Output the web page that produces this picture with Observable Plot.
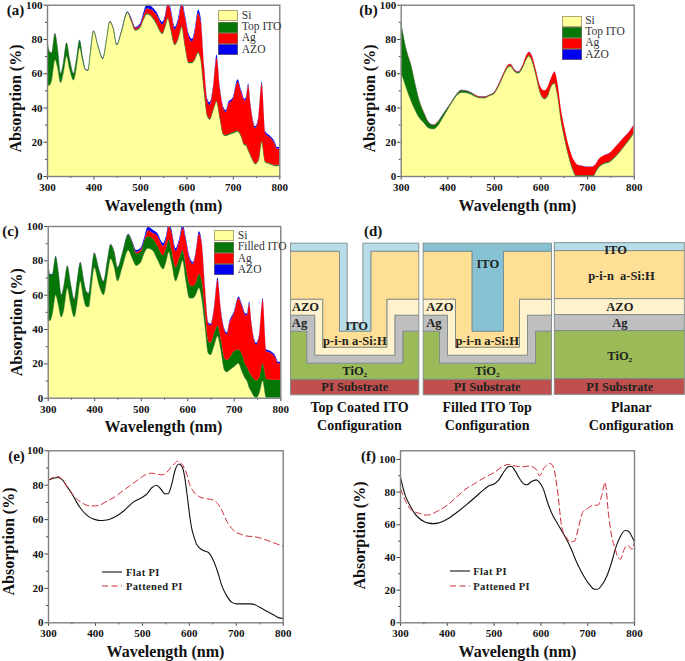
<!DOCTYPE html>
<html>
<head>
<meta charset="utf-8">
<script src="https://cdn.jsdelivr.net/npm/d3@7"></script>
<script src="https://cdn.jsdelivr.net/npm/@observablehq/plot@0.6"></script>
<style>
html,body{margin:0;padding:0;background:#fff}
#page{position:relative;width:685px;height:661px;overflow:hidden;font-family:"Liberation Serif",serif}
#page svg{position:absolute;overflow:visible}
.lg{position:absolute;font-size:11.5px;color:#333;line-height:1}
.sw{position:absolute;width:20px;box-sizing:border-box;border:1px solid rgba(130,120,90,.65)}
.lt{position:absolute;white-space:nowrap;transform:translateY(-50%)}
.ll{position:absolute;white-space:nowrap;font-weight:bold;font-size:10.5px;letter-spacing:.35px;color:#222;transform:translateY(-50%)}
</style>
</head>
<body>
<div id="page"></div>
<script>
// ---------- shared axis values
const majorX=[300,400,500,600,700,800];
const minorX=[350,450,550,650,750];
const majorY=[0,20,40,60,80,100];
const minorY=[10,30,50,70,90];

// ---------- panel (a)
const wlA=[300,305,310,317,323,329,335,342,349,357,363,370,377,383,388,393,400,410,420,428,435,443,450,460,473,482,490,500,507,515,525,535,548,554,560,566,575,582,590,597,605,612,618,625,631,638,645,650,657,665,672,680,685,690,700,710,718,725,728,733,738,743,748,755,762,770,780,790,795,800];
const siA=[53,53,56,68,63,54.5,60,70,62,56,63,75,67,62,61.5,71,84.5,75.5,68.5,79.5,90,85.5,76.5,84,95.5,90,85,86.5,91,94.5,93,89,83,87,92,86,76.5,80,87,76,66,66,68,72,68,50,35,33,38,43.5,34,24,23.5,24,25,26,23,18,18,15,12,9,7,9,20,8,7,6,6,6];
const itoA=[79.7,72.7,71.7,83.2,73.7,59.7,65.7,77.7,67.7,59.7,67.7,79.2,68.7,62.2,61.7,71.7,84.7,75.7,68.7,79.7,90.2,85.7,76.7,84.4,95.7,90.5,85.5,87,91.5,95,93.5,89.5,83.5,87.5,92.5,86.5,77,80.5,87.5,76.5,66.5,66.5,68.5,72.5,68.5,50.5,35.5,33.5,38.5,44,34.5,24.5,24,24.5,25.5,26.5,23.5,18.5,18.5,15.5,12.5,9.5,7.5,9.5,20.5,8.5,7.5,6.5,6.5,6.5];
const agA=[79.8,72.8,71.8,83.3,73.8,59.8,65.8,77.8,67.8,59.8,67.8,79.3,68.8,62.3,61.8,71.8,84.8,75.8,68.8,79.8,90.3,85.8,76.8,84.7,95.8,91.5,86.5,88,93.5,98,97,94.5,88.5,92.5,101,96.5,85.5,90.5,100,92.5,81.5,78.5,84.5,95,90,64,43.5,41.5,51,69,51,39,37.5,42,45,55,49,44,45,53,41,32,28,34,54,25,22.5,19,16,16];
const azoA=[80,73,72,83.5,74,60,66,78,68,60,68,79.5,69,62.5,62,72,85,76,69,80,90.5,86,77,85,96,92,87,89,95,100.5,99,96,90,94,103,98,87,92,102,94,83,80,86,97,92,65,45,43,52,71,52,40,38.5,43,46,56.5,50,45,46,54,42,33,29,35,55,26,23.5,20,17,17];

// ---------- panel (b)
const wlB=[300,305,310,315,322,330,340,350,360,370,380,390,400,410,420,430,440,450,460,470,480,490,500,510,520,530,535,545,552,560,570,575,582,590,600,608,615,622,630,636,645,650,660,670,676,680,690,700,710,714,718,725,735,750,760,770,780,790,800];
const siB=[61,57,53,49,44,39,34,31,28,27.5,29.5,34,38.5,43,47,48.8,48.6,47.8,46.4,45.6,45.5,46.8,48,52.5,58.5,63.5,64,60.8,60,62.5,68.5,70,67,59,48,45,46.5,52,54,48,31,24,12,3,0,0,0,0,0,0,2,5,7,8.5,11,14,17.5,21,25];
const itoB=[89.7,82.7,75.7,70.7,64.7,54.7,43.7,36.7,31.2,29.7,31.7,35.7,39.7,43.7,47.7,50,49.7,48.7,47,46,46,47.2,48.5,53,59,64,64.5,61.3,60.5,63,69,70.5,67.5,59.5,48.5,45.5,47,52.5,54.5,48.5,31.5,24.5,12.5,3.5,0.5,0.5,0.5,0.5,0.5,0.5,2.5,5.5,7.5,9,11.5,14.5,18,21.5,25.5];
const agB=[89.9,82.9,75.9,70.9,64.9,54.9,43.9,36.9,31.4,29.9,31.9,35.9,39.9,43.9,47.9,50.2,49.9,48.9,47.4,46.4,46.4,47.4,48.9,53.9,59.9,64.9,65.4,61.9,60.9,63.9,70.9,72.4,69.9,61.9,51.9,49.9,51.9,56.9,60.9,54.9,36.9,29.9,17.9,9.9,7.4,6.4,5.9,5.4,5.4,5.9,6.9,9.9,11.9,13.9,16.9,19.9,22.9,25.9,29.9];
const azoB=[90,83,76,71,65,55,44,37,31.5,30,32,36,40,44,48,50.3,50,49,47.5,46.5,46.5,47.5,49,54,60,65,65.5,62,61,64,71,72.5,70,62,52,50,52,57,61,55,37,30,18,10,7.5,6.5,6,5.5,5.5,6,7,10,12,14,17,20,23,26,30];

// ---------- panel (c)
const wlC=wlA;
const siC=[45,45,49,60,54,47,52,64,55,47,55,68,58,53,53,62,76,66,60,71,81,76,68,76,86,81,77,79,84,87,86,81,75,79,85,79,68,73,80,68,58,58,60,64,58,42,26,25,30,36,28,16,15,16,18,20,15,11,10,6,3.5,1,0,3,10,0,0,0,0,0];
const itoC=[79.2,71.7,71.7,82.2,72.7,59.7,65.7,76.7,66.7,57.2,67.7,78.7,68.7,61.7,60.7,70.7,84.2,74.7,67.7,79.7,89.2,84.7,75.7,83.7,95,90,84,85,91,94,93,89,83,87,92,86,76,81,86,76,66,65,67,72,68,50,33,32,37,42,34,23,22,23,27,28,25,19,18,15,13,11,10,12,20,11,10.5,10.5,10.5,10.5];
const agC=[79.3,71.8,71.8,82.3,72.8,59.8,65.8,76.8,66.8,57.3,67.8,78.8,68.8,61.8,60.8,70.8,84.3,74.8,67.8,79.8,89.3,84.8,75.8,83.8,95.2,90.5,85,86.5,91.5,97.5,96,94.5,88.5,92.5,100,96.5,85.5,90.5,99,91.5,80.5,78,84,95.5,90,64,43,42,51,68.5,51,39,37,43,49,58,53,48,48,55,43,34,31,37,57,27,26,23,20,20];
const azoC=[79.5,72,72,82.5,73,60,66,77,67,57.5,68,79,69,62,61,71,84.5,75,68,80,89.5,85,76,84,95.5,91,86,87.5,93,99.5,98,96,90,94,102,98,87,92,101,93,82,79,85,97,91,65,44,43,52,70,52,40,38,44,50,59,54,49,49,56,44,35,32,38,58,28,27,24,21,21];

// ---------- panel (e)
const wlEflat=[300,310,320,330,340,350,360,370,380,390,400,410,420,430,440,450,460,470,480,490,500,510,520,530,540,548,555,562,570,578,585,590,595,600,605,610,615,620,630,640,650,660,670,680,690,700,710,720,730,740,750,760,770,780,790,800];
const absEflat=[83,84,84.5,83,79,75,70,66,63,61,60,59.5,59.6,60.2,61.4,63,65,67.5,70,71.5,73,75,78.5,80,77.5,75,75,80,89,92.3,90.5,85,75,64,55,50,46,44,42,41,37,30,21,15.5,12,11,11,11,11,10.5,9,7.5,6,4.5,3,2.5];
const wlEpat=[300,310,320,330,340,350,360,370,380,390,400,410,420,430,440,450,460,470,480,490,500,510,520,530,540,550,560,570,575,585,595,600,610,620,630,640,650,660,670,680,690,700,710,720,740,760,780,800];
const absEpat=[83,84.5,85,83,79,75,72,70,68.5,68,68,68.5,70,71.5,73,75,77,79,81,83,85,86.5,87,86.5,86,87,90,93,94,92,86,81,76,73.5,72.5,72,71.5,69.5,65,59,55,52.5,51.5,50.5,50,48.5,46.5,44.5];

// ---------- panel (f)
const wlFflat=[300,310,320,330,340,350,360,370,380,390,400,420,440,460,480,490,500,510,520,530,537,545,555,565,570,580,590,597,605,615,625,635,645,655,665,675,685,695,705,715,720,730,740,750,760,770,780,787,795,800];
const absFflat=[89,78,72,67,64,62,61,60.7,61,62,63.5,67.5,72,77,82,84,85,87.5,92,95.5,95.8,93,88,84.8,84.5,86.5,87.5,86,82,73,66,61,56,51,45,38,32,27,23,20.5,20.5,23,28,36,46,53,56.5,56,52.5,49.5];
const wlFpat=[300,310,320,330,340,350,360,370,380,400,420,440,460,480,500,520,530,545,560,575,590,597,607,620,627,635,645,655,662,672,680,690,700,712,722,730,737,745,752,758,765,770,778,785,795,800];
const absFpat=[82,75,70,68,67,66,66,67,68.5,72,77,82,85.5,89,92,96,97,96,95.5,96,94,90,95,97.5,95,82,58,52,49.5,50,58,68,70,72,72,78,86,65,52,46,40,39,45,47.5,45,50];

// ---------- legends
const legendAreas=["Si","Top ITO","Ag","AZO"];
const legendAreasC=["Si","Filled ITO","Ag","AZO"];
const legendLines=["Flat PI","Pattened PI"];
const areaColours=["#ffff9c","#067606","#ff0000","#0000f0"];

// ---------- panel (d): schematic drawn in its own units
const polyPI=[[15,476],[400,476],[400,523],[15,523]];
const polyTiO2=[[15,332],[64,332],[64,428],[352,428],[352,332],[400,332],[400,476],[15,476]];
const polyAg=[[15,284],[88,284],[88,404],[328,404],[328,284],[400,284],[400,332],[352,332],[352,428],[64,428],[64,332],[15,332]];
const polyAZO=[[15,236],[112,236],[112,380],[304,380],[304,236],[400,236],[400,284],[328,284],[328,404],[88,404],[88,284],[15,284]];
const polyPin=[[15,92],[162,92],[162,332],[256,332],[256,92],[400,92],[400,236],[304,236],[304,380],[112,380],[112,236],[15,236]];
const polyCoated=[[15,68],[185,68],[185,308],[232,308],[232,68],[400,68],[400,92],[256,92],[256,332],[162,332],[162,92],[15,92]];
const polyFilled=[[15,68],[400,68],[400,92],[256,92],[256,332],[162,332],[162,92],[15,92]];
const planarBands=[["ITO",68,92],["pin",92,236],["AZO",236,284],["Ag",284,332],["TiO2",332,476],["PI",476,523]];
const schemLabels=[
 ["AZO",60,260],["Ag",42,307],["ITO",213,315],["p-i-n a-Si:H",208,360],["TiO₂",208,451],["PI Substrate",208,500],
 ["AZO",463,260],["Ag",445,307],["ITO",607,130],["p-i-n a-Si:H",605,360],["TiO₂",605,451],["PI Substrate",605,500],
 ["ITO",990,88],["p-i-n  a-Si:H",1008,165],["AZO",1003,260],["Ag",1003,307],["TiO₂",1003,405],["PI Substrate",1003,500]];
const schemCaptions=[["Top Coated ITO",222,560],["Configuration",222,614],["Filled ITO Top",605,560],["Configuration",605,614],["Planar",1037,560],["Configuration",1037,614]];
const schemColours={PI:"#c0504d",TiO2:"#9bbb59",Ag:"#bfbfbf",AZO:"#fff2cc",pin:"#ffdf96",ITO:"#b7dde8",ITOf:"#86c2d4"};

const page=document.getElementById("page");
const serif="Liberation Serif";

function put(svg,left,top){svg.style.left=left+"px";svg.style.top=top+"px";page.appendChild(svg);}

function axesAndText(f,c,o){
  const T=(s,px,py,extra)=>Plot.text([s],{frameAnchor:"top-left",textAnchor:"middle",lineAnchor:"middle",dx:px-f.l,dy:py-f.t,text:d=>d,fontFamily:serif,fontWeight:"bold",fill:"#111",...extra});
  const tick={fontFamily:serif,fontWeight:"bold",fontSize:11,fill:"#111",label:null};
  return [
    Plot.axisX(majorX,{...tick,tickSize:3.5,tickPadding:3,stroke:"#444"}),
    Plot.axisX(minorX,{tickSize:2,text:null,label:null,stroke:"#444"}),
    Plot.axisY(majorY,{...tick,tickSize:3.5,tickPadding:1.5,stroke:"#444"}),
    Plot.axisY(minorY,{tickSize:2,text:null,label:null,stroke:"#444"}),
    Plot.frame({stroke:"#808080",strokeWidth:1.4}),
    T("Wavelength (nm)",o.xl[0],o.xl[1],{fontSize:16}),
    T("Absorption (%)",o.yl[0],o.yl[1],{fontSize:16,rotate:-90}),
    T(o.tag,o.tagAt[0],o.tagAt[1],{fontSize:15})
  ];
}

function plotFor(f,c,marks,top){
  return Plot.plot({
    width:c.w,height:c.h,
    marginLeft:f.l-c.x,marginRight:c.x+c.w-f.r,marginTop:f.t-c.y,marginBottom:c.y+c.h-f.b,
    x:{domain:[300,800],axis:null},
    y:{domain:[0,top],axis:null},
    style:{background:"transparent"},
    marks
  });
}

function areaPanel(f,c,wl,si,ito,ag,azo,o){
  const base=(y1,y2,fill,extra)=>Plot.areaY(wl,{x:wl,y1,y2,fill,curve:"monotone-x",clip:true,...extra});
  const marks=[
    base(0,si,areaColours[0]),
    base(si,ito,areaColours[1],{stroke:"#2f6f2f",strokeWidth:.5}),
    base(ito,ag,areaColours[2]),
    base(ag,azo,areaColours[3]),
    ...axesAndText(f,c,o)
  ];
  put(plotFor(f,c,marks,100),c.x,c.y);
}

function linePanel(f,c,w1,a1,w2,a2,top,o){
  const marks=[
    Plot.line(w1,{x:w1,y:a1,stroke:"#111",strokeWidth:1.1,curve:"monotone-x"}),
    Plot.line(w2,{x:w2,y:a2,stroke:"#cf2a36",strokeWidth:1,strokeDasharray:"6,3.5",curve:"monotone-x"}),
    ...axesAndText(f,c,o)
  ];
  put(plotFor(f,c,marks,top),c.x,c.y);
}

function areaLegend(x,ys,h,names){
  names.forEach((n,i)=>{
    const s=document.createElement("div");s.className="sw";
    s.style.cssText=`left:${x}px;top:${ys[i]}px;height:${h}px;background:${areaColours[i]}`;
    page.appendChild(s);
    const t=document.createElement("div");t.className="lg lt";t.textContent=n;
    t.style.left=(x+23.5)+"px";t.style.top=(ys[i]+h/2)+"px";
    page.appendChild(t);
  });
}
function lineLegend(x,tx,ys){
  const styles=[["#111",null],["#cf2a36","6,3.5"]];
  legendLines.forEach((n,i)=>{
    const svg=d3.create("svg").attr("width",20).attr("height",4);
    const ln=svg.append("line").attr("x1",0).attr("x2",20).attr("y1",2).attr("y2",2).attr("stroke",styles[i][0]).attr("stroke-width",1.1);
    if(styles[i][1]) ln.attr("stroke-dasharray",styles[i][1]);
    const node=svg.node();node.style.left=x+"px";node.style.top=(ys[i]-2)+"px";page.appendChild(node);
    const t=document.createElement("div");t.className="ll";t.textContent=n;
    t.style.left=tx+"px";t.style.top=ys[i]+"px";page.appendChild(t);
  });
}

// --- panels
areaPanel({l:47,r:279.3,t:4.7,b:176},{x:0,y:0,w:285,h:214},wlA,siA,itoA,agA,azoA,{xl:[163,205.7],yl:[15,98],tag:"(a)",tagAt:[15,9.5]});
areaPanel({l:400.7,r:633.7,t:4.7,b:176},{x:345,y:0,w:340,h:214},wlB,siB,itoB,agB,azoB,{xl:[517,205.7],yl:[369,98],tag:"(b)",tagAt:[368,9.5]});
areaPanel({l:47.7,r:280.3,t:226,b:397.7},{x:0,y:215,w:285,h:220},wlC,siC,itoC,agC,azoC,{xl:[163,426],yl:[16.7,321.7],tag:"(c)",tagAt:[10,230.7]});
linePanel({l:48,r:282.7,t:450.3,b:622.3},{x:0,y:440,w:290,h:221},wlEflat,absEflat,wlEpat,absEpat,100,{xl:[165,651.7],yl:[8.5,541],tag:"(e)",tagAt:[16,455.7]});
linePanel({l:400,r:634,t:450.3,b:622.3},{x:345,y:440,w:340,h:221},wlFflat,absFflat,wlFpat,absFpat,105.3,{xl:[517,651.7],yl:[359,535],tag:"(f)",tagAt:[368,455.7]});

areaLegend(218.3,[10,21.7,32.7,44],11,legendAreas);
areaLegend(561.7,[15.7,26.7,37.7,49],11,legendAreas);
areaLegend(214.3,[230,241.7,253.3,264.3],11,legendAreasC);
lineLegend(102.3,126,[571.7,586]);
lineLegend(449.7,473.3,[571.3,586]);

// --- panel (d)
const shift=(poly,dx)=>poly.map(([x,y])=>[x+dx,y]);
const shapes=[
  ["a1","PI",polyPI,0],["a2","TiO2",polyTiO2,0],["a3","Ag",polyAg,0],["a4","AZO",polyAZO,0],["a5","pin",polyPin,0],["a6","ITO",polyCoated,0],
  ["b1","PI",polyPI,398],["b2","TiO2",polyTiO2,398],["b3","Ag",polyAg,398],["b4","AZO",polyAZO,398],["b5","pin",polyPin,398],["b6","ITOf",polyFilled,398]
];
const rows=[];
for(const [id,kind,poly,dx] of shapes){
  const pts=shift(poly,dx);
  [...pts,pts[0]].forEach(p=>rows.push({id,kind,x:p[0],y:p[1]}));
}
const planar=planarBands.map(([kind,y1,y2])=>({kind,x1:808,x2:1198,y1,y2}));
put(Plot.plot({
  width:400,height:215,marginLeft:0,marginRight:0,marginTop:0,marginBottom:0,
  x:{domain:[0,1200],axis:null},
  y:{domain:[0,645],reverse:true,axis:null},
  style:{background:"transparent"},
  marks:[
    Plot.line(rows,{x:"x",y:"y",z:"id",fill:d=>schemColours[d.kind],stroke:"#7c8a8a",strokeWidth:.9,curve:"linear"}),
    Plot.rect(planar,{x1:"x1",x2:"x2",y1:"y1",y2:"y2",fill:d=>schemColours[d.kind],stroke:"#7c8a8a",strokeWidth:.9}),
    Plot.text(schemLabels,{x:d=>d[1],y:d=>d[2],text:d=>d[0],fontFamily:serif,fontWeight:"bold",fontSize:12.5,fill:"#222"}),
    Plot.text(schemCaptions,{x:d=>d[1],y:d=>d[2],text:d=>d[0],fontFamily:serif,fontWeight:"bold",fontSize:14,fill:"#111"}),
    Plot.text(["(d)"],{x:[263],y:[33],text:d=>d,fontFamily:serif,fontWeight:"bold",fontSize:15,fill:"#111"})
  ]
}),285,220);
</script>
</body>
</html>
